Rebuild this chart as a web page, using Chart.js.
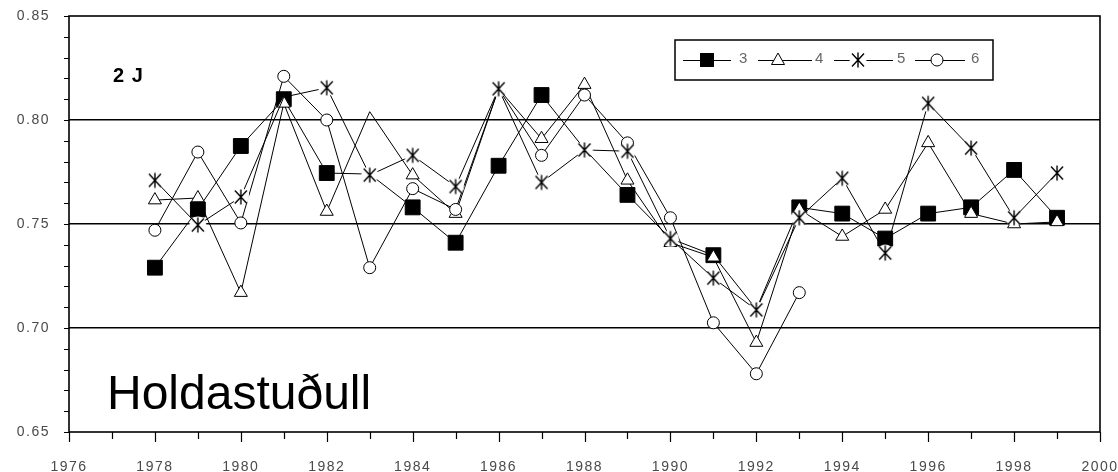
<!DOCTYPE html>
<html>
<head>
<meta charset="utf-8">
<script src="https://cdn.jsdelivr.net/npm/chart.js@4.4.1/dist/chart.umd.min.js"></script>
<style>
html,body{margin:0;padding:0;background:#fff;}
#wrap{position:relative;width:1118px;height:472px;}
</style>
</head>
<body>
<div id="wrap"><canvas id="c" width="1118" height="472"></canvas></div>
<script>
const years = [1978,1979,1980,1981,1982,1983,1984,1985,1986,1987,1988,1989,1990,1991,1992,1993,1994,1995,1996,1997,1998,1999];
const series3 = [0.729,0.757,0.7875,0.810,0.7745,0.774,0.758,0.741,0.778,0.812,0.786,0.764,0.743,0.735,0.709,0.758,0.755,0.743,0.755,0.758,0.776,0.753];
const series4 = [0.7615,0.7625,0.717,0.808,0.756,0.804,0.7735,0.755,0.815,0.791,0.817,0.771,0.741,0.734,0.693,0.757,0.744,0.757,0.789,0.755,0.750,0.751];
const series5 = [0.771,0.7495,0.763,0.811,0.8155,0.7735,0.783,0.768,0.815,0.770,0.7856,0.785,0.743,0.724,0.7087,0.753,0.772,0.736,0.808,0.7865,0.753,0.7745];
const series6 = [0.747,0.7846,0.7505,0.821,0.800,0.729,0.767,0.757,0.815,0.783,0.812,0.789,0.753,0.7025,0.678,0.717,null,null,null,null,null,null];
const seriesNames = ['3','4','5','6'];
// years where a series' marker is not visible in the original
const series3NoMarker = [1983,1988,1990,1992];
const series4NoMarker = [1983];
const series5NoMarker = [1981];
const yTickLabels = ['0.65','0.70','0.75','0.80','0.85'];
const xTickLabels = ['1976','1978','1980','1982','1984','1986','1988','1990','1992','1994','1996','1998','2000'];
const panelLabel = '2 J';
const titleText = 'Holdastuðull';

function toXY(vals){ return years.map((yr,i)=>({x:yr,y:vals[i]})); }

function makeAsterisk(){
  const c=document.createElement('canvas'); c.width=20; c.height=20;
  const g=c.getContext('2d');
  g.fillStyle='#fff'; g.beginPath(); g.arc(10,10,8.5,0,2*Math.PI); g.fill();
  g.strokeStyle='#000'; g.lineWidth=1.4; g.beginPath();
  g.moveTo(10,2.5); g.lineTo(10,17.5);
  g.moveTo(4,3.5); g.lineTo(16,16.5);
  g.moveTo(16,3.5); g.lineTo(4,16.5);
  g.stroke();
  return c;
}
const asterisk = makeAsterisk();

const base = {showLine:true, borderColor:'#000', borderWidth:1, tension:0, spanGaps:false, pointBorderColor:'#000', pointBorderWidth:1, pointHoverRadius:0};

const datasets = [
  Object.assign({}, base, {label:seriesNames[0], data:toXY(series3), pointStyle:'rect', backgroundColor:'#000', pointBackgroundColor:'#000',
    pointRadius: ctx => series3NoMarker.includes(years[ctx.dataIndex]) ? 0 : 10.5, order:3}),
  Object.assign({}, base, {label:seriesNames[1], data:toXY(series4), pointStyle:'triangle', pointBackgroundColor:'#fff',
    pointRadius: ctx => series4NoMarker.includes(years[ctx.dataIndex]) ? 0 : 7.5, order:2}),
  Object.assign({}, base, {label:seriesNames[2], data:toXY(series5), pointStyle:asterisk,
    pointRadius: ctx => series5NoMarker.includes(years[ctx.dataIndex]) ? 0 : 10, order:0}),
  Object.assign({}, base, {label:seriesNames[3], data:toXY(series6), pointStyle:'circle', pointBackgroundColor:'#fff', pointRadius:6, order:1}),
];

function near(v, arr){ return arr.some(a => Math.abs(parseFloat(a)-v) < 1e-6); }
function zeroPad(s){ s.paddingTop = 0; s.paddingBottom = 0; s.paddingLeft = 0; s.paddingRight = 0; }

const decor = {
  id:'decor',
  beforeDraw(chart){ chart.ctx.letterSpacing = '1.5px'; },
  beforeDatasetsDraw(chart){
    const ctx = chart.ctx; ctx.letterSpacing = '0px';
    const a = chart.chartArea, xs = chart.scales.x, ys = chart.scales.y;
    ctx.save();
    ctx.strokeStyle = '#000';
    ctx.lineWidth = 1.2;
    ctx.beginPath();
    for (let v = 65; v <= 85; v++){
      const py = Math.round(ys.getPixelForValue(v/100)) + 0.5;
      ctx.moveTo(a.left - 5, py); ctx.lineTo(a.left, py);
    }
    for (let yr = 1976; yr <= 2000; yr++){
      const px = Math.round(xs.getPixelForValue(yr)) + 0.5;
      const len = (yr % 2 === 0) ? 10 : 7;
      ctx.moveTo(px, a.bottom); ctx.lineTo(px, a.bottom + len);
    }
    ctx.stroke();
    ctx.lineWidth = 1.6;
    ctx.strokeRect(a.left, a.top, a.right - a.left, a.bottom - a.top);
    ctx.fillStyle = '#000';
    ctx.textBaseline = 'alphabetic';
    ctx.font = 'bold 20px "Liberation Sans", Arial, sans-serif';
    ctx.letterSpacing = '1px';
    ctx.fillText(panelLabel, 113, 82);
    ctx.letterSpacing = '0px';
    ctx.font = '48px "Liberation Sans", Arial, sans-serif';
    ctx.fillText(titleText, 107, 409);
    ctx.restore();
  },
  afterDatasetsDraw(chart){
    const ctx = chart.ctx;
    ctx.save();
    ctx.letterSpacing = '0px';
    const bx = 675, by = 40, bw = 318, bh = 40, cy = 60;
    ctx.fillStyle = '#fff';
    ctx.fillRect(bx, by, bw, bh);
    ctx.strokeStyle = '#000'; ctx.lineWidth = 1.5;
    ctx.strokeRect(bx, by, bw, bh);
    ctx.lineWidth = 1;
    const items = [
      {l1:683, l2:731, m:707, t:739},
      {l1:758, l2:812, m:778, t:815},
      {l1:834, l2:893, m:858, t:897},
      {l1:915, l2:965, m:937, t:971},
    ];
    items.forEach((it, i) => {
      ctx.beginPath(); ctx.moveTo(it.l1, cy + 0.5); ctx.lineTo(it.l2, cy + 0.5); ctx.stroke();
      if (i === 0){ ctx.fillStyle = '#000'; ctx.fillRect(it.m - 7, cy - 7, 14, 14); }
      else if (i === 1){
        ctx.fillStyle = '#fff'; ctx.beginPath();
        ctx.moveTo(it.m, cy - 7); ctx.lineTo(it.m + 6.5, cy + 4.5); ctx.lineTo(it.m - 6.5, cy + 4.5); ctx.closePath();
        ctx.fill(); ctx.stroke();
      } else if (i === 2){ ctx.drawImage(asterisk, it.m - 10, cy - 10); }
      else { ctx.fillStyle = '#fff'; ctx.beginPath(); ctx.arc(it.m, cy, 6, 0, 2*Math.PI); ctx.fill(); ctx.stroke(); }
      ctx.fillStyle = '#666'; ctx.font = '15px "Liberation Sans", Arial, sans-serif'; ctx.textBaseline = 'middle';
      ctx.fillText(seriesNames[i], it.t, cy - 1);
    });
    ctx.restore();
  }
};

new Chart(document.getElementById('c'), {
  type:'scatter',
  data:{datasets},
  options:{
    responsive:false, animation:false, devicePixelRatio:1,
    layout:{autoPadding:false, padding:{top:16, right:18, left:0, bottom:0}},
    plugins:{legend:{display:false}, tooltip:{enabled:false}},
    elements:{line:{borderWidth:1}},
    scales:{
      x:{type:'linear', min:1976, max:2000,
        afterFit(s){ s.height = 40; zeroPad(s); },
        afterBuildTicks(s){ s.ticks = xTickLabels.map(t => ({value: parseFloat(t)})); },
        grid:{display:false, drawTicks:false},
        border:{display:false},
        ticks:{padding:27, color:'#4a4a4a', font:{family:'"Liberation Sans", Arial, sans-serif', size:14},
          callback:(v)=> xTickLabels.includes(String(v)) ? String(v) : ''}
      },
      y:{type:'linear', min:0.65, max:0.85,
        afterFit(s){ s.width = 69; zeroPad(s); },
        afterBuildTicks(s){ s.ticks = yTickLabels.map(t => ({value: parseFloat(t)})); },
        grid:{drawTicks:false, lineWidth:1.6, color: c => (c.tick && near(c.tick.value, ['0.70','0.75','0.80'])) ? '#000' : 'rgba(0,0,0,0)'},
        border:{display:false},
        ticks:{padding:19, color:'#4a4a4a', font:{family:'"Liberation Sans", Arial, sans-serif', size:14},
          callback:(v)=> { const s = Number(v).toFixed(2); return yTickLabels.includes(s) ? s : ''; }}
      }
    }
  },
  plugins:[decor]
});
</script>
</body>
</html>
